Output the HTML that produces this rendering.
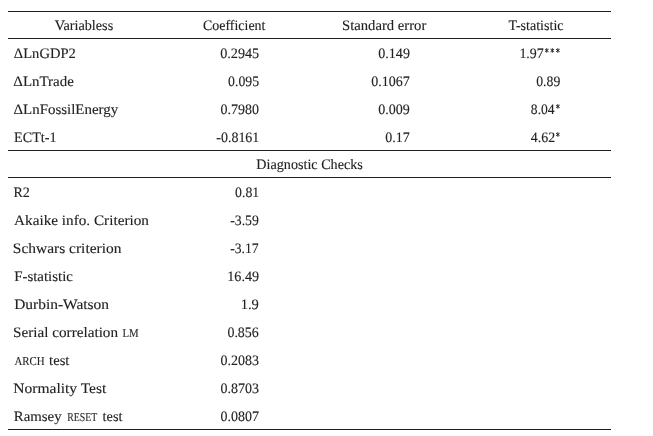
<!DOCTYPE html>
<html><head><meta charset="utf-8"><style>
html,body{margin:0;padding:0;background:#fff;}
body{width:653px;height:436px;position:relative;overflow:hidden;}
svg{position:absolute;left:0;top:0;filter:grayscale(1);}
text{font-family:"Liberation Serif",serif;white-space:pre;text-rendering:geometricPrecision;}
</style></head><body>
<svg width="653" height="436" viewBox="0 0 653 436">
<rect x="8" y="11" width="603" height="1" fill="#1e1e1e"/>
<rect x="8" y="38" width="603" height="1" fill="#1e1e1e"/>
<rect x="8" y="150" width="603" height="1" fill="#1e1e1e"/>
<rect x="8" y="177" width="603" height="1" fill="#1e1e1e"/>
<rect x="8" y="429" width="603" height="1" fill="#1e1e1e"/>
<path d="M546.75 48.15V52.75M544.95 49.15L548.55 51.75M544.95 51.75L548.55 49.15" stroke="#222" stroke-width="0.95" fill="none"/>
<path d="M552.30 48.15V52.75M550.50 49.15L554.10 51.75M550.50 51.75L554.10 49.15" stroke="#222" stroke-width="0.95" fill="none"/>
<path d="M557.85 48.15V52.75M556.05 49.15L559.65 51.75M556.05 51.75L559.65 49.15" stroke="#222" stroke-width="0.95" fill="none"/>
<path d="M557.85 104.10V108.70M556.05 105.10L559.65 107.70M556.05 107.70L559.65 105.10" stroke="#222" stroke-width="0.95" fill="none"/>
<path d="M557.85 132.20V136.80M556.05 133.20L559.65 135.80M556.05 135.80L559.65 133.20" stroke="#222" stroke-width="0.95" fill="none"/>
<text x="54.83" y="30.00" font-size="14.4" fill="#222" stroke="#222" stroke-width="0.12" textLength="58.35" lengthAdjust="spacingAndGlyphs">Variabless</text>
<text x="203.01" y="30.00" font-size="14.4" fill="#222" stroke="#222" stroke-width="0.12" textLength="62.41" lengthAdjust="spacingAndGlyphs">Coefficient</text>
<text x="342.06" y="30.00" font-size="14.4" fill="#222" stroke="#222" stroke-width="0.12" textLength="84.29" lengthAdjust="spacingAndGlyphs">Standard error</text>
<text x="508.60" y="30.00" font-size="14.4" fill="#222" stroke="#222" stroke-width="0.12" textLength="54.99" lengthAdjust="spacingAndGlyphs">T-statistic</text>
<text x="13.88" y="58.00" font-size="14.4" fill="#222" stroke="#222" stroke-width="0.12" textLength="61.90" lengthAdjust="spacingAndGlyphs">&Delta;LnGDP2</text>
<text x="220.24" y="58.00" font-size="14.4" fill="#222" stroke="#222" stroke-width="0.12" textLength="38.97" lengthAdjust="spacingAndGlyphs">0.2945</text>
<text x="378.27" y="58.00" font-size="14.4" fill="#222" stroke="#222" stroke-width="0.12" textLength="31.66" lengthAdjust="spacingAndGlyphs">0.149</text>
<text x="519.42" y="58.00" font-size="14.4" fill="#222" stroke="#222" stroke-width="0.12" textLength="24.31" lengthAdjust="spacingAndGlyphs">1.97</text>
<text x="13.31" y="86.00" font-size="14.4" fill="#222" stroke="#222" stroke-width="0.12" textLength="60.56" lengthAdjust="spacingAndGlyphs">&Delta;LnTrade</text>
<text x="228.08" y="86.00" font-size="14.4" fill="#222" stroke="#222" stroke-width="0.12" textLength="30.98" lengthAdjust="spacingAndGlyphs">0.095</text>
<text x="371.14" y="86.00" font-size="14.4" fill="#222" stroke="#222" stroke-width="0.12" textLength="38.54" lengthAdjust="spacingAndGlyphs">0.1067</text>
<text x="536.22" y="86.00" font-size="14.4" fill="#222" stroke="#222" stroke-width="0.12" textLength="24.07" lengthAdjust="spacingAndGlyphs">0.89</text>
<text x="13.44" y="114.00" font-size="14.4" fill="#222" stroke="#222" stroke-width="0.12" textLength="104.82" lengthAdjust="spacingAndGlyphs">&Delta;LnFossilEnergy</text>
<text x="220.60" y="114.00" font-size="14.4" fill="#222" stroke="#222" stroke-width="0.12" textLength="38.46" lengthAdjust="spacingAndGlyphs">0.7980</text>
<text x="378.25" y="114.00" font-size="14.4" fill="#222" stroke="#222" stroke-width="0.12" textLength="31.64" lengthAdjust="spacingAndGlyphs">0.009</text>
<text x="530.86" y="114.00" font-size="14.4" fill="#222" stroke="#222" stroke-width="0.12" textLength="23.71" lengthAdjust="spacingAndGlyphs">8.04</text>
<text x="14.09" y="142.00" font-size="14.4" fill="#222" stroke="#222" stroke-width="0.12" textLength="42.37" lengthAdjust="spacingAndGlyphs">ECTt-1</text>
<text x="216.27" y="142.00" font-size="14.4" fill="#222" stroke="#222" stroke-width="0.12" textLength="43.07" lengthAdjust="spacingAndGlyphs">-0.8161</text>
<text x="385.36" y="142.00" font-size="14.4" fill="#222" stroke="#222" stroke-width="0.12" textLength="24.39" lengthAdjust="spacingAndGlyphs">0.17</text>
<text x="530.77" y="142.00" font-size="14.4" fill="#222" stroke="#222" stroke-width="0.12" textLength="24.36" lengthAdjust="spacingAndGlyphs">4.62</text>
<text x="256.31" y="169.00" font-size="14.4" fill="#222" stroke="#222" stroke-width="0.12" textLength="106.54" lengthAdjust="spacingAndGlyphs">Diagnostic Checks</text>
<text x="13.48" y="197.00" font-size="14.4" fill="#222" stroke="#222" stroke-width="0.12" textLength="16.36" lengthAdjust="spacingAndGlyphs">R2</text>
<text x="235.06" y="197.00" font-size="14.4" fill="#222" stroke="#222" stroke-width="0.12" textLength="24.18" lengthAdjust="spacingAndGlyphs">0.81</text>
<text x="14.13" y="225.00" font-size="14.4" fill="#222" stroke="#222" stroke-width="0.12" textLength="134.79" lengthAdjust="spacingAndGlyphs">Akaike info. Criterion</text>
<text x="230.23" y="225.00" font-size="14.4" fill="#222" stroke="#222" stroke-width="0.12" textLength="28.64" lengthAdjust="spacingAndGlyphs">-3.59</text>
<text x="12.88" y="253.00" font-size="14.4" fill="#222" stroke="#222" stroke-width="0.12" textLength="108.55" lengthAdjust="spacingAndGlyphs">Schwars criterion</text>
<text x="230.27" y="253.00" font-size="14.4" fill="#222" stroke="#222" stroke-width="0.12" textLength="28.36" lengthAdjust="spacingAndGlyphs">-3.17</text>
<text x="14.16" y="281.00" font-size="14.4" fill="#222" stroke="#222" stroke-width="0.12" textLength="58.72" lengthAdjust="spacingAndGlyphs">F-statistic</text>
<text x="227.28" y="281.00" font-size="14.4" fill="#222" stroke="#222" stroke-width="0.12" textLength="31.80" lengthAdjust="spacingAndGlyphs">16.49</text>
<text x="14.15" y="309.00" font-size="14.4" fill="#222" stroke="#222" stroke-width="0.12" textLength="94.94" lengthAdjust="spacingAndGlyphs">Durbin-Watson</text>
<text x="240.67" y="309.00" font-size="14.4" fill="#222" stroke="#222" stroke-width="0.12" textLength="18.24" lengthAdjust="spacingAndGlyphs">1.9</text>
<text x="12.97" y="337.00" font-size="14.4" fill="#222" stroke="#222" stroke-width="0.12" textLength="105.11" lengthAdjust="spacingAndGlyphs">Serial correlation</text>
<text x="122.48" y="337.00" font-size="12.0" fill="#262626" stroke="#262626" stroke-width="0.12" textLength="16.21" lengthAdjust="spacingAndGlyphs">LM</text>
<text x="227.42" y="337.00" font-size="14.4" fill="#222" stroke="#222" stroke-width="0.12" textLength="31.41" lengthAdjust="spacingAndGlyphs">0.856</text>
<text x="14.40" y="365.00" font-size="12.0" fill="#262626" stroke="#262626" stroke-width="0.12" textLength="30.21" lengthAdjust="spacingAndGlyphs">ARCH</text>
<text x="49.10" y="365.00" font-size="14.4" fill="#222" stroke="#222" stroke-width="0.12" textLength="20.28" lengthAdjust="spacingAndGlyphs">test</text>
<text x="220.59" y="365.00" font-size="14.4" fill="#222" stroke="#222" stroke-width="0.12" textLength="38.42" lengthAdjust="spacingAndGlyphs">0.2083</text>
<text x="13.31" y="393.00" font-size="14.4" fill="#222" stroke="#222" stroke-width="0.12" textLength="93.03" lengthAdjust="spacingAndGlyphs">Normality Test</text>
<text x="220.59" y="393.00" font-size="14.4" fill="#222" stroke="#222" stroke-width="0.12" textLength="38.42" lengthAdjust="spacingAndGlyphs">0.8703</text>
<text x="13.88" y="421.00" font-size="14.4" fill="#222" stroke="#222" stroke-width="0.12" textLength="47.73" lengthAdjust="spacingAndGlyphs">Ramsey</text>
<text x="67.28" y="421.00" font-size="12.0" fill="#262626" stroke="#262626" stroke-width="0.12" textLength="30.06" lengthAdjust="spacingAndGlyphs">RESET</text>
<text x="102.62" y="421.00" font-size="14.4" fill="#222" stroke="#222" stroke-width="0.12" textLength="19.81" lengthAdjust="spacingAndGlyphs">test</text>
<text x="220.58" y="421.00" font-size="14.4" fill="#222" stroke="#222" stroke-width="0.12" textLength="38.33" lengthAdjust="spacingAndGlyphs">0.0807</text>
</svg>
</body></html>
